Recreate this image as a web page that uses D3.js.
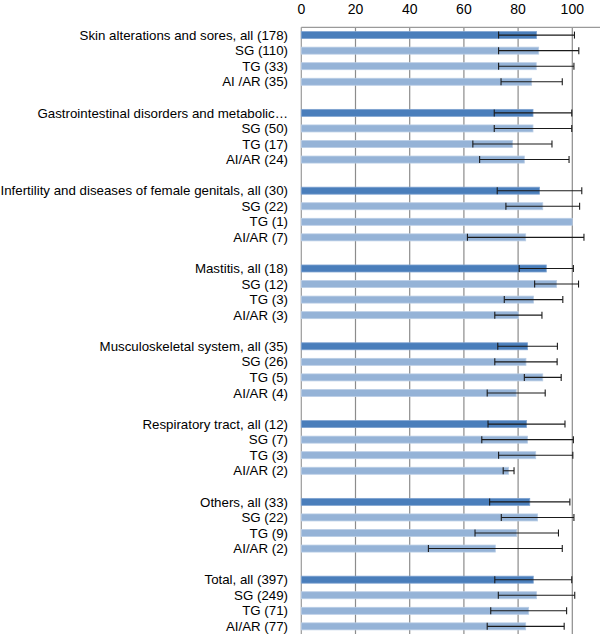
<!DOCTYPE html>
<html><head><meta charset="utf-8">
<script src="https://cdn.jsdelivr.net/npm/d3@7"></script>
<style>body{margin:0;background:#fff}svg{display:block}</style>
</head><body>
<svg id="c" width="600" height="634"></svg>
<script>
const labels = [
 "Skin alterations and sores, all (178)","SG (110)","TG (33)","AI /AR (35)","",
 "Gastrointestinal disorders and metabolic…","SG (50)","TG (17)","AI/AR (24)","",
 "Infertility and diseases of female genitals, all (30)","SG (22)","TG (1)","AI/AR (7)","",
 "Mastitis, all (18)","SG (12)","TG (3)","AI/AR (3)","",
 "Musculoskeletal system, all (35)","SG (26)","TG (5)","AI/AR (4)","",
 "Respiratory tract, all (12)","SG (7)","TG (3)","AI/AR (2)","",
 "Others, all (33)","SG (22)","TG (9)","AI/AR (2)","",
 "Total, all (397)","SG (249)","TG (71)","AI/AR (77)"
];
const values = [
 86.8,87.6,86.7,85.0,null,
 85.5,85.5,77.9,82.3,null,
 87.9,89.1,100,82.8,null,
 90.4,94.2,85.7,80.1,null,
 83.5,82.9,89.1,79.3,null,
 83.1,83.5,86.5,76.5,null,
 84.3,87.2,79.5,71.6,null,
 85.6,86.8,83.9,82.8
];
const errors = [
 14.0,14.8,13.9,11.3,null,
 14.3,14.3,14.6,16.5,null,
 15.6,13.6,0,21.5,null,
 10.0,8.1,10.8,8.7,null,
 11.0,11.5,6.8,10.7,null,
 14.2,16.9,13.7,2.0,null,
 14.8,13.4,15.4,24.7,null,
 14.2,14.1,14.0,14.2
];
const kinds = labels.map((l,i)=> l==="" ? "gap" : (i%5===0 ? "all" : "sub"));
const ticks = [0,20,40,60,80,100];

const svg = d3.select("#c");
const X0 = 301.3, X100 = 572.3, TOP = 27.3, BOTTOM = 634;
const x = d3.scaleLinear().domain([0,100]).range([X0,X100]);
const y = d3.scaleBand().domain(d3.range(labels.length)).range([TOP, TOP + 15.56*labels.length]).paddingInner(0.55).paddingOuter(0.275);

// gridlines
svg.append("g").selectAll("line").data(ticks).join("line")
  .attr("x1",d=>x(d)).attr("x2",d=>x(d)).attr("y1",TOP).attr("y2",BOTTOM)
  .attr("stroke",d=>d===0?"#9a9a9a":"#8c8c8c").attr("stroke-width",1.2);
// top axis line
svg.append("line").attr("x1",X0).attr("x2",600).attr("y1",TOP).attr("y2",TOP)
  .attr("stroke","#9a9a9a").attr("stroke-width",1.2);

// tick labels
svg.append("g").selectAll("text").data(ticks).join("text")
  .attr("x",d=>x(d)).attr("y",13.5).attr("text-anchor","middle")
  .attr("font-family","Liberation Sans, Arial, sans-serif").attr("font-size",14)
  .attr("fill","#000").text(d=>d);

const idx = d3.range(labels.length).filter(i=>kinds[i]!=="gap");

// bars
svg.append("g").selectAll("rect").data(idx).join("rect")
  .attr("x",x(0)).attr("y",i=>y(i)).attr("height",y.bandwidth())
  .attr("width",i=>x(values[i])-x(0))
  .attr("fill",i=>kinds[i]==="all"?"#4a7ebb":"#95b3d7")
  .attr("stroke",i=>kinds[i]==="all"?"#7fa3d0":"#b9cde5").attr("stroke-width",0.8);

// error bars
const eb = svg.append("g").attr("stroke","#1a1a1a").attr("stroke-width",1.1);
idx.filter(i=>errors[i]>0).forEach(i=>{
  const cy = y(i)+y.bandwidth()/2;
  const lo = x(values[i]-errors[i]), hi = x(values[i]+errors[i]);
  eb.append("line").attr("x1",lo).attr("x2",hi).attr("y1",cy).attr("y2",cy);
  [lo,hi].forEach(px=>eb.append("line").attr("x1",px).attr("x2",px).attr("y1",cy-3.5).attr("y2",cy+3.5));
});

// category labels
svg.append("g").selectAll("text").data(idx).join("text")
  .attr("x",288).attr("y",i=>y(i)+y.bandwidth()/2).attr("dy","0.35em")
  .attr("text-anchor","end")
  .attr("font-family","Liberation Sans, Arial, sans-serif").attr("font-size",13.3)
  .attr("fill","#000").text(i=>labels[i]);
</script>
</body></html>
